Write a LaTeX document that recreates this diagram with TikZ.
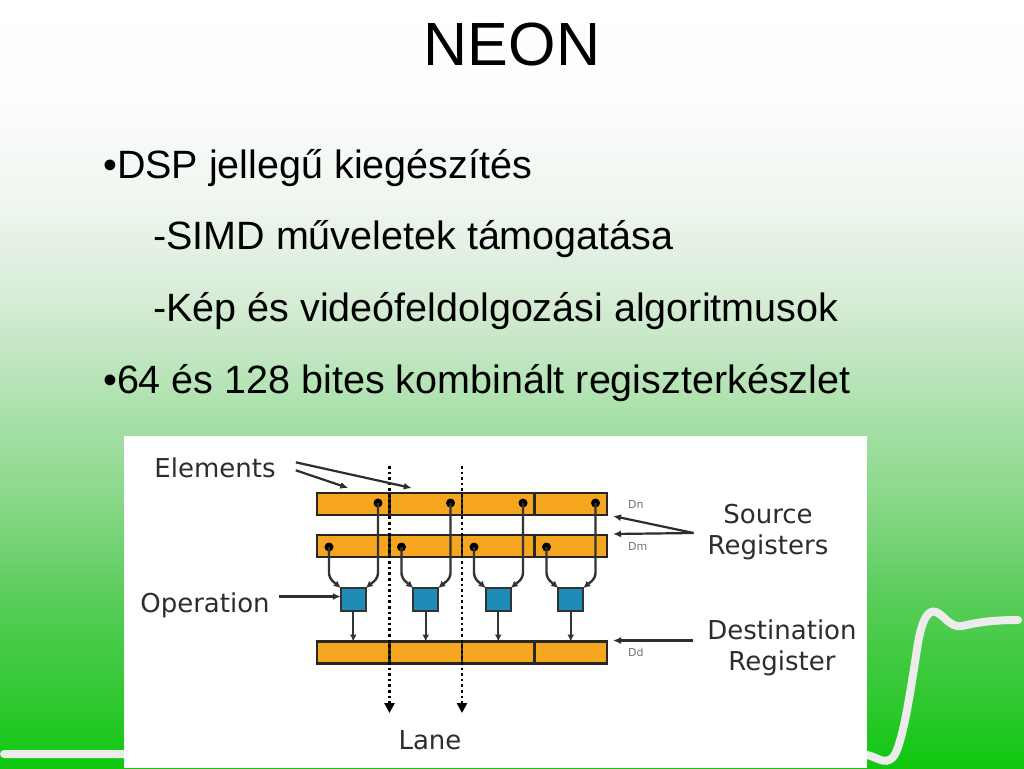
\documentclass[tikz,border=0pt]{standalone}
\usepackage{fontspec}
\setmainfont{Liberation Sans}
\newfontfamily\dejavu{DejaVu Sans}
\usetikzlibrary{arrows.meta,positioning,calc}

\definecolor{regorange}{RGB}{246,166,30}
\definecolor{opblue}{RGB}{30,140,182}
\definecolor{labelgray}{RGB}{45,45,45}
\definecolor{wavewhite}{RGB}{236,236,236}
\definecolor{bgA}{RGB}{16,200,16}
\definecolor{bgB}{RGB}{48,200,48}
\definecolor{bgC}{RGB}{88,204,88}
\definecolor{bgD}{RGB}{136,216,136}
\definecolor{bgE}{RGB}{176,226,176}
\definecolor{bgF}{RGB}{214,236,214}
\definecolor{bgG}{RGB}{240,246,240}
\definecolor{bgH}{RGB}{252,253,252}
\pgfdeclareverticalshading{slidebg}{100bp}{color(0bp)=(bgA); color(25bp)=(bgA);
  color(29.4bp)=(bgB); color(35.9bp)=(bgC); color(42.4bp)=(bgD); color(49bp)=(bgE);
  color(55.5bp)=(bgF); color(62bp)=(bgG); color(68.5bp)=(bgH); color(75bp)=(white);
  color(100bp)=(white)}

\tikzset{
  reg/.style={draw=black!85, line width=2.4pt, fill=regorange, minimum width=72.5pt,
    minimum height=22pt, inner sep=0pt, outer sep=0pt},
  op/.style={draw=black!80, line width=2.4pt, fill=opblue, minimum width=25pt,
    minimum height=23pt, inner sep=0pt, outer sep=0pt},
  pin/.style={circle, fill=black, inner sep=0pt, minimum size=9pt},
  wire/.style={line width=2.4pt, black!80, rounded corners=5pt, -{Latex[length=7pt,width=7pt]}},
  lane/.style={line width=2.6pt, dash pattern=on 2.6pt off 3pt, -{Triangle[length=10pt,width=10pt]}},
  lbl/.style={font=\dejavu\fontsize{26}{31.5}\selectfont, text=labelgray, inner sep=0pt, align=center},
  reglbl/.style={font=\dejavu\fontsize{11}{12}\selectfont, text=black!55, inner sep=0pt},
  pointer/.style={line width=2.2pt, labelgray, -{Latex[length=8pt,width=7pt]}},
  wave/.style={line width=8pt, wavewhite, line cap=round},
  slidetext/.style={font=\fontsize{39.5}{44}\selectfont, inner sep=0pt, anchor=base west}
}

\begin{document}
\begin{tikzpicture}[x=1pt, y=-1pt]
  \useasboundingbox (0,0) rectangle (1024,768);

  % Slide background
  \shade[shading=slidebg] (0,0) rectangle (1024,768);
  \draw[wave] (4,754) -- (860,754) .. controls (876,754) and (884,768) .. (894,756)
    .. controls (904,740) and (912,680) .. (918,643) .. controls (922,620) and (928,609) .. (936,612)
    .. controls (944,615) and (950,628) .. (962,626) .. controls (975,623) and (990,620) .. (1018,620);

  % Title and bullets
  \node[font=\fontsize{61}{70}\selectfont, anchor=base, inner sep=0pt] (title) at (512,66) {NEON};
  \node[slidetext] (b1) at (103,178) {•DSP jellegű kiegészítés};
  \node[slidetext] (b2) at (153,249) {-SIMD műveletek támogatása};
  \node[slidetext] (b3) at (153,321) {-Kép és videófeldolgozási algoritmusok};
  \node[slidetext] (b4) at (103,393) {•64 és 128 bites kombinált regiszterkészlet};

  % Picture panel
  \fill[white] (124,436) rectangle (867,768);

  \coordinate (bend) at (0,578);
  \coordinate (lanetop) at (0,466);
  \coordinate (lanebot) at (0,713);

  % Registers, operations and wires
  \foreach \i in {1,...,4} {
    \node[reg] (dn\i) at ({280.75+72.5*\i},504) {};
    \node[reg] (dm\i) at ({280.75+72.5*\i},546) {};
    \node[reg] (dd\i) at ({280.75+72.5*\i},652.5) {};
    \node[op] (op\i) at ({280.75+72.5*\i},599.5) {};
    \node[pin, xshift=24.75pt, yshift=1pt] (pn\i) at (dn\i) {};
    \node[pin, xshift=-24.25pt, yshift=-1pt] (pm\i) at (dm\i) {};
    \draw[wire] (pn\i.center) -- (pn\i.center |- bend) -- (op\i.north east);
    \draw[wire] (pm\i.center) -- (pm\i.center |- bend) -- (op\i.north west);
    \draw[wire] (op\i) -- (dd\i);
  }

  % Lanes
  \draw[lane] (dn1.east |- lanetop) -- (dn1.east |- lanebot);
  \draw[lane] (dn2.east |- lanetop) -- (dn2.east |- lanebot);

  % Register names
  \node[reglbl, right=21pt of dn4] (dnname) {Dn};
  \node[reglbl, right=21pt of dm4] (dmname) {Dm};
  \node[reglbl, right=21pt of dd4] (ddname) {Dd};

  % Labels
  \node[lbl, anchor=base] (elements) at (215,477) {Elements};
  \node[lbl, anchor=base] (operation) at (205,612) {Operation};
  \node[lbl, anchor=base] (lane) at (430,749) {Lane};
  \node[lbl] (srclbl) at (768,532) {Source\\Registers};
  \node[lbl] (dstlbl) at (782,648) {Destination\\Register};

  % Pointers
  \draw[pointer] ($(elements.east)+(20,-5)$) -- ($(dn2.north)+(-14,-5)$);
  \draw[pointer] ($(elements.east)+(20,3)$) -- ($(dn1.north)+(-5,-5)$);
  \draw[pointer] ($(operation.east |- op1.west)+(9,-3)$) -- ($(op1.west)+(0,-3)$);
  \draw[pointer] ($(srclbl.west)+(-14,1)$) -- ($(dn4.south east)+(6,1)$);
  \draw[pointer] ($(srclbl.west)+(-14,1)$) -- ($(dm4.north east)+(6,-1)$);
  \draw[pointer] ($(dstlbl.west |- dd4.north)+(-14,-1)$) -- ($(dd4.north east)+(6,-1)$);
\end{tikzpicture}
\end{document}
